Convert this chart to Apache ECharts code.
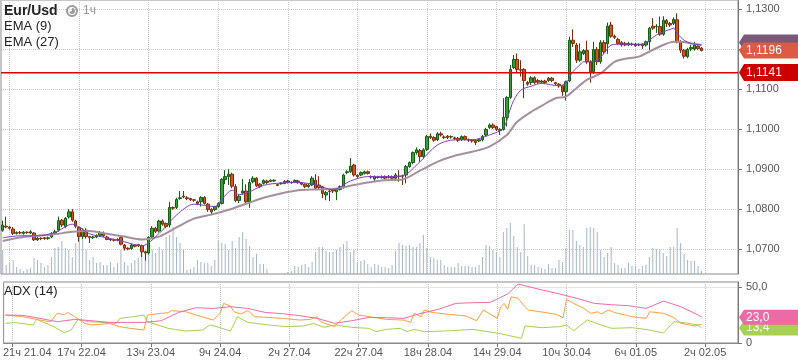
<!DOCTYPE html>
<html><head><meta charset="utf-8">
<script src="https://cdn.jsdelivr.net/npm/echarts@6/dist/echarts.min.js"></script>
<style>html,body{margin:0;padding:0;background:#fff}#c{width:798px;height:363px}</style>
</head><body><div id="c"></div>
<script>
const tickLabels = ['21ч 21.04','17ч 22.04','13ч 23.04','9ч 24.04','2ч 27.04','22ч 27.04','18ч 28.04','14ч 29.04','10ч 30.04','6ч 01.05','2ч 02.05'];
const slotCount = 212, firstTick = 2, tickStep = 20;
// [open, high, low, close]
const ohlc = [
[1.0747,1.0771,1.0743,1.0760],[1.0757,1.0781,1.0752,1.0755],[1.0755,1.0758,1.0748,1.0752],[1.0750,1.0755,1.0735,1.0739],[1.0739,1.0744,1.0736,1.0741],
[1.0741,1.0745,1.0737,1.0740],[1.0739,1.0745,1.0736,1.0742],[1.0742,1.0744,1.0738,1.0741],[1.0740,1.0747,1.0737,1.0743],[1.0740,1.0742,1.0720,1.0723],
[1.0723,1.0730,1.0720,1.0727],[1.0727,1.0729,1.0722,1.0726],[1.0728,1.0730,1.0723,1.0726],[1.0726,1.0731,1.0723,1.0728],[1.0730,1.0742,1.0727,1.0739],
[1.0739,1.0748,1.0736,1.0743],[1.0747,1.0781,1.0743,1.0771],[1.0772,1.0775,1.0755,1.0760],[1.0756,1.0780,1.0752,1.0777],[1.0780,1.0800,1.0776,1.0793],
[1.0793,1.0800,1.0768,1.0772],[1.0770,1.0773,1.0752,1.0757],[1.0754,1.0757,1.0718,1.0731],[1.0731,1.0752,1.0725,1.0747],[1.0747,1.0752,1.0726,1.0731],
[1.0731,1.0733,1.0715,1.0729],[1.0729,1.0733,1.0725,1.0730],[1.0730,1.0737,1.0727,1.0733],[1.0734,1.0745,1.0731,1.0741],[1.0740,1.0744,1.0730,1.0733],
[1.0730,1.0733,1.0722,1.0724],[1.0725,1.0727,1.0720,1.0723],[1.0723,1.0726,1.0719,1.0722],[1.0724,1.0727,1.0719,1.0722],[1.0729,1.0731,1.0709,1.0712],
[1.0710,1.0712,1.0696,1.0702],[1.0702,1.0704,1.0697,1.0700],[1.0701,1.0713,1.0698,1.0710],[1.0710,1.0712,1.0704,1.0707],[1.0711,1.0713,1.0705,1.0708],
[1.0708,1.0711,1.0680,1.0693],[1.0693,1.0695,1.0671,1.0690],[1.0690,1.0732,1.0686,1.0729],[1.0730,1.0757,1.0727,1.0752],[1.0752,1.0755,1.0740,1.0744],
[1.0745,1.0773,1.0741,1.0770],[1.0770,1.0774,1.0758,1.0762],[1.0764,1.0766,1.0752,1.0756],[1.0760,1.0818,1.0754,1.0804],[1.0804,1.0806,1.0798,1.0802],
[1.0804,1.0828,1.0800,1.0824],[1.0826,1.0845,1.0823,1.0828],[1.0832,1.0845,1.0827,1.0830],[1.0828,1.0832,1.0822,1.0826],[1.0826,1.0828,1.0820,1.0823],
[1.0823,1.0825,1.0818,1.0822],[1.0818,1.0821,1.0811,1.0814],[1.0818,1.0832,1.0806,1.0829],[1.0829,1.0832,1.0811,1.0814],[1.0812,1.0815,1.0793,1.0799],
[1.0799,1.0802,1.0785,1.0793],[1.0799,1.0808,1.0795,1.0806],[1.0806,1.0817,1.0803,1.0814],[1.0814,1.0877,1.0811,1.0874],[1.0874,1.0897,1.0862,1.0881],
[1.0881,1.0899,1.0860,1.0887],[1.0887,1.0891,1.0852,1.0857],[1.0856,1.0862,1.0817,1.0821],[1.0821,1.0836,1.0815,1.0832],[1.0840,1.0875,1.0836,1.0845],
[1.0845,1.0862,1.0815,1.0818],[1.0818,1.0875,1.0803,1.0866],[1.0868,1.0882,1.0864,1.0877],[1.0877,1.0880,1.0855,1.0858],[1.0862,1.0865,1.0852,1.0856],
[1.0864,1.0874,1.0861,1.0871],[1.0870,1.0873,1.0863,1.0866],[1.0869,1.0874,1.0867,1.0872],[1.0870,1.0874,1.0868,1.0872],[1.0861,1.0863,1.0857,1.0859],
[1.0863,1.0867,1.0861,1.0864],[1.0869,1.0872,1.0862,1.0864],[1.0867,1.0873,1.0864,1.0870],[1.0867,1.0869,1.0863,1.0866],[1.0868,1.0874,1.0866,1.0871],
[1.0870,1.0873,1.0863,1.0866],[1.0866,1.0868,1.0859,1.0862],[1.0862,1.0864,1.0852,1.0856],[1.0856,1.0863,1.0853,1.0860],[1.0860,1.0882,1.0857,1.0877],
[1.0872,1.0887,1.0848,1.0852],[1.0860,1.0882,1.0850,1.0854],[1.0855,1.0858,1.0827,1.0839],[1.0835,1.0845,1.0822,1.0841],[1.0845,1.0848,1.0820,1.0844],
[1.0847,1.0849,1.0840,1.0845],[1.0843,1.0852,1.0822,1.0849],[1.0849,1.0859,1.0846,1.0856],[1.0854,1.0888,1.0851,1.0885],[1.0891,1.0897,1.0887,1.0893],
[1.0893,1.0927,1.0890,1.0907],[1.0910,1.0913,1.0881,1.0885],[1.0884,1.0887,1.0878,1.0881],[1.0885,1.0894,1.0882,1.0891],[1.0889,1.0896,1.0886,1.0893],
[1.0893,1.0896,1.0886,1.0889],[1.0881,1.0884,1.0876,1.0880],[1.0875,1.0884,1.0868,1.0881],[1.0880,1.0883,1.0876,1.0879],[1.0879,1.0884,1.0876,1.0880],
[1.0881,1.0884,1.0874,1.0877],[1.0879,1.0885,1.0876,1.0881],[1.0881,1.0884,1.0874,1.0877],[1.0877,1.0890,1.0873,1.0885],[1.0882,1.0897,1.0868,1.0881],
[1.0883,1.0886,1.0860,1.0882],[1.0885,1.0910,1.0864,1.0906],[1.0906,1.0919,1.0903,1.0916],[1.0916,1.0944,1.0912,1.0941],[1.0941,1.0954,1.0936,1.0948],
[1.0946,1.0950,1.0918,1.0931],[1.0931,1.0952,1.0926,1.0948],[1.0949,1.0985,1.0945,1.0981],[1.0982,1.0989,1.0975,1.0979],[1.0979,1.0982,1.0968,1.0972],
[1.0973,1.0992,1.0970,1.0988],[1.0988,1.0993,1.0981,1.0985],[1.0980,1.0984,1.0975,1.0979],[1.0982,1.0985,1.0975,1.0979],[1.0980,1.0984,1.0976,1.0981],
[1.0978,1.0981,1.0972,1.0976],[1.0977,1.0980,1.0968,1.0972],[1.0973,1.0984,1.0970,1.0981],[1.0981,1.0984,1.0971,1.0974],[1.0974,1.0976,1.0968,1.0972],
[1.0972,1.0975,1.0966,1.0970],[1.0971,1.0974,1.0960,1.0966],[1.0970,1.0976,1.0967,1.0973],[1.0973,1.0985,1.0969,1.0981],[1.0985,1.1003,1.0982,1.0999],
[1.1004,1.1014,1.1000,1.1010],[1.1010,1.1014,1.1000,1.1004],[1.1006,1.1008,1.0995,1.0999],[1.0996,1.1002,1.0985,1.0999],[1.0999,1.1077,1.0996,1.1029],
[1.1029,1.1082,1.1006,1.1079],[1.1079,1.1160,1.1075,1.1149],[1.1154,1.1185,1.1150,1.1174],[1.1174,1.1189,1.1140,1.1149],[1.1149,1.1172,1.1131,1.1147],
[1.1149,1.1152,1.1077,1.1121],[1.1116,1.1120,1.1108,1.1112],[1.1116,1.1132,1.1110,1.1128],[1.1128,1.1132,1.1112,1.1116],[1.1121,1.1125,1.1113,1.1117],
[1.1117,1.1123,1.1114,1.1120],[1.1120,1.1123,1.1112,1.1116],[1.1121,1.1130,1.1118,1.1127],[1.1127,1.1130,1.1117,1.1121],[1.1116,1.1118,1.1110,1.1113],
[1.1112,1.1115,1.1103,1.1108],[1.1108,1.1110,1.1083,1.1093],[1.1093,1.1121,1.1071,1.1118],[1.1120,1.1231,1.1117,1.1222],[1.1222,1.1249,1.1205,1.1214],
[1.1210,1.1215,1.1165,1.1172],[1.1172,1.1214,1.1168,1.1193],[1.1189,1.1200,1.1185,1.1196],[1.1196,1.1221,1.1163,1.1168],[1.1168,1.1172,1.1116,1.1143],
[1.1143,1.1218,1.1138,1.1199],[1.1199,1.1205,1.1160,1.1168],[1.1168,1.1222,1.1163,1.1216],[1.1216,1.1222,1.1188,1.1193],[1.1213,1.1266,1.1188,1.1257],
[1.1260,1.1268,1.1228,1.1232],[1.1232,1.1236,1.1225,1.1229],[1.1224,1.1228,1.1210,1.1214],[1.1216,1.1220,1.1206,1.1210],[1.1214,1.1218,1.1207,1.1210],
[1.1210,1.1218,1.1207,1.1214],[1.1212,1.1216,1.1208,1.1211],[1.1212,1.1215,1.1205,1.1208],[1.1210,1.1214,1.1207,1.1211],[1.1212,1.1214,1.1200,1.1208],
[1.1210,1.1221,1.1206,1.1218],[1.1218,1.1255,1.1197,1.1252],[1.1257,1.1277,1.1248,1.1252],[1.1256,1.1262,1.1240,1.1257],[1.1256,1.1281,1.1233,1.1237],
[1.1237,1.1282,1.1233,1.1272],[1.1271,1.1275,1.1255,1.1264],[1.1264,1.1268,1.1255,1.1260],[1.1264,1.1279,1.1260,1.1274],[1.1273,1.1289,1.1214,1.1218],
[1.1218,1.1222,1.1190,1.1197],[1.1197,1.1200,1.1176,1.1182],[1.1181,1.1203,1.1177,1.1199],[1.1200,1.1210,1.1195,1.1204],[1.1200,1.1218,1.1196,1.1210],
[1.1207,1.1212,1.1198,1.1201],[1.1202,1.1205,1.1194,1.1196]
];
const volume = [
24,9,11,14,7,5,3,5,6,16,14,11,7,9,17,26,27,33,26,24,17,31,39,37,24,14,17,11,12,9,9,12,7,11,24,12,9,11,14,16,27,24,34,24,21,27,24,37,39,47,37,31,24,
4,5,7,14,12,11,11,8,14,34,31,30,24,33,26,37,42,35,28,17,20,10,10,5,0,0,0,0,1,2,3,8,7,9,10,7,12,22,27,27,23,22,22,24,27,30,33,22,24,12,13,14,10,
7,10,9,7,7,6,9,23,31,29,28,29,27,27,31,39,26,17,16,14,14,9,7,7,7,11,8,8,8,7,7,9,17,29,28,24,22,17,42,46,51,38,27,22,50,18,9,9,7,6,5,10,6,
6,14,12,26,44,44,33,29,27,46,47,46,42,24,17,21,27,11,9,6,6,11,8,8,5,8,9,17,26,25,25,21,18,27,27,46,31,20,14,13,13,8,3
];
const ema9 = [[0,1.0728],[5,1.0733],[10,1.0733],[15,1.0741],[20,1.0762],[25,1.0738],[30,1.0728],[35,1.0718],[40,1.0708],[45,1.0739],[50,1.0785],[55,1.0812],[61,1.0806],[63,1.0824],[66,1.0847],[68,1.0836],[70,1.0839],[75,1.0859],[80,1.0865],[85,1.0866],[90,1.0861],[95,1.0848],[100,1.0870],[105,1.0881],[110,1.0881],[115,1.0883],[120,1.0918],[125,1.0960],[130,1.0973],[135,1.0973],[140,1.0985],[144,1.1002],[146,1.1050],[147,1.1072],[149,1.1097],[152,1.1107],[155,1.1114],[160,1.1108],[162,1.1115],[164,1.1143],[166,1.1160],[167,1.1168],[169,1.1168],[171,1.1172],[173,1.1189],[175,1.1210],[178,1.1212],[182,1.1212],[184,1.1212],[186,1.1222],[188,1.1235],[190,1.1243],[192,1.1249],[193,1.1252],[194,1.1239],[196,1.1222],[198,1.1214],[201,1.1210]];
const ema27 = [[0,1.0720],[5,1.0729],[10,1.0733],[15,1.0737],[20,1.0743],[25,1.0745],[30,1.0738],[35,1.0731],[40,1.0724],[45,1.0731],[50,1.0754],[55,1.0776],[60,1.0786],[65,1.0798],[70,1.0813],[75,1.0828],[80,1.0839],[85,1.0847],[90,1.0849],[95,1.0850],[100,1.0858],[105,1.0866],[110,1.0872],[115,1.0874],[120,1.0896],[125,1.0918],[130,1.0933],[135,1.0943],[140,1.0956],[145,1.0985],[148,1.1018],[152,1.1043],[155,1.1058],[159,1.1077],[162,1.1081],[165,1.1102],[168,1.1123],[172,1.1139],[176,1.1168],[180,1.1177],[183,1.1181],[187,1.1198],[190,1.1210],[193,1.1218],[195,1.1218],[198,1.1214],[201,1.1210]];
const adx = [[0,25.0],[5,24.7],[10,22.0],[15,19.0],[20,21.1],[25,19.9],[30,18.4],[40,18.4],[45,19.9],[50,27.3],[55,31.5],[60,30.9],[65,32.4],[70,30.9],[75,27.3],[80,26.2],[85,24.4],[90,22.0],[95,17.6],[100,19.9],[105,22.9],[110,22.6],[115,22.0],[120,26.5],[125,30.1],[130,35.4],[135,36.0],[140,36.3],[145,43.8],[148,52.7],[155,47.3],[160,43.8],[165,39.9],[170,35.4],[175,34.2],[180,33.3],[185,30.9],[190,37.5],[195,32.4],[200,25.0],[201,23.0]];
const plusDI = [[0,25.0],[5,23.5],[10,20.5],[13,19.0],[15,26.5],[17,25.3],[18,27.4],[20,23.5],[23,17.4],[25,16.1],[30,17.4],[33,14.6],[36,13.1],[40,11.6],[41,25.0],[45,26.5],[47,27.1],[48,28.9],[52,28.0],[55,25.0],[60,20.5],[62,26.5],[63,35.4],[65,33.0],[66,27.9],[68,25.9],[70,28.9],[72,23.5],[75,23.0],[80,22.0],[85,20.5],[88,21.1],[90,23.5],[91,19.0],[95,14.6],[97,21.1],[100,28.9],[102,25.0],[105,23.5],[110,21.1],[115,20.5],[117,18.4],[118,26.5],[120,23.5],[121,29.5],[123,27.4],[128,25.6],[133,24.1],[136,19.9],[138,29.5],[142,22.0],[143,32.4],[144,35.4],[145,30.1],[146,41.3],[148,39.9],[150,32.4],[151,29.5],[156,27.1],[159,25.6],[161,22.6],[162,39.0],[164,35.4],[167,30.9],[169,26.5],[171,27.9],[172,25.9],[174,29.5],[176,27.1],[181,23.5],[185,22.0],[186,27.9],[190,26.5],[193,22.6],[195,17.6],[199,15.2],[201,16.7]];
const minusDI = [[0,17.6],[3,18.2],[8,16.1],[9,21.1],[14,14.6],[17,9.2],[19,11.6],[21,21.1],[24,19.0],[28,18.4],[32,17.4],[33,22.0],[37,23.5],[40,25.0],[41,19.0],[44,16.1],[47,13.1],[52,10.7],[57,11.6],[59,16.1],[61,14.6],[65,10.7],[67,23.5],[70,18.4],[76,16.1],[81,14.6],[86,15.2],[89,17.4],[92,14.0],[95,16.1],[100,14.0],[105,13.1],[107,10.1],[110,12.2],[114,13.1],[116,10.1],[118,12.2],[121,10.1],[128,10.9],[135,12.2],[143,8.3],[149,4.2],[150,15.2],[155,13.7],[160,14.6],[162,16.1],[164,10.9],[168,20.5],[172,16.1],[175,13.1],[181,13.7],[186,11.6],[190,8.9],[193,19.0],[196,18.2],[200,16.1],[201,13.4]];
const levelPrice = 1.1141;

const FONT = '"Liberation Sans", Arial, sans-serif';
const categories = Array.from({length: slotCount}, (_, i) => String(i));
const isTick = i => i >= firstTick && (i - firstTick) % tickStep === 0;
const commaFix = (v, d) => v.toFixed(d).replace('.', ',');
const candleData = ohlc.map(r => [r[0], r[3], r[2], r[1]]);

const chart = echarts.init(document.getElementById('c'), null, {renderer: 'canvas'});
const dotted = {type: 'dotted', color: '#c8c8c8', width: 1};
chart.setOption({
  animation: false,
  backgroundColor: '#fff',
  textStyle: {fontFamily: FONT},
  grid: [
    {left: 1, top: 0, right: 60, height: 274, show: true, borderColor: '#8a8a8a', borderWidth: 1, backgroundColor: 'transparent'},
    {left: 1, top: 282, right: 60, height: 61, show: true, borderColor: '#8a8a8a', borderWidth: 1, backgroundColor: 'transparent'}
  ],
  xAxis: [
    {type: 'category', gridIndex: 0, data: categories, boundaryGap: true,
     axisLine: {show: false, onZero: false}, axisTick: {show: false}, axisLabel: {show: false},
     splitLine: {show: true, interval: i => isTick(i), alignWithLabel: true, lineStyle: dotted}},
    {type: 'category', gridIndex: 1, data: categories, boundaryGap: true,
     axisLine: {show: true, onZero: false, lineStyle: {color: '#8a8a8a'}},
     axisTick: {show: true, alignWithLabel: true, interval: i => isTick(i), length: 4, lineStyle: {color: '#777'}},
     axisLabel: {show: true, interval: i => isTick(i), color: '#555', fontSize: 11, fontFamily: FONT, margin: 4,
       formatter: (v, i) => { const k = (i - firstTick) / tickStep; return k === 0 ? '{f|' + tickLabels[k] + '}' : tickLabels[k]; },
       rich: {f: {padding: [0, 0, 0, 30], color: '#555', fontSize: 11, fontFamily: FONT}}},
     splitLine: {show: true, interval: i => isTick(i), alignWithLabel: true, lineStyle: dotted}}
  ],
  yAxis: [
    {type: 'value', gridIndex: 0, position: 'right', min: 1.06375, max: 1.13225, splitNumber: 7,
     axisLine: {show: true, lineStyle: {color: '#777'}},
     axisTick: {show: true, length: 4, lineStyle: {color: '#777'}},
     axisLabel: {color: '#555', fontSize: 11, fontFamily: FONT, margin: 8, showMinLabel: false, showMaxLabel: false,
       formatter: v => commaFix(v, 4)},
     splitLine: {show: true, lineStyle: dotted}},
    {type: 'value', gridIndex: 0, min: 0, max: 274, show: false, splitLine: {show: false}, axisLine: {show: false}},
    {type: 'value', gridIndex: 1, position: 'right', min: 0, max: 54.5, interval: 50,
     axisLine: {show: true, lineStyle: {color: '#777'}},
     axisTick: {show: true, length: 4, lineStyle: {color: '#777'}},
     axisLabel: {color: '#555', fontSize: 11, fontFamily: FONT, margin: 8, showMaxLabel: false,
       formatter: v => v === 0 ? '0' : commaFix(v, 1)},
     splitLine: {show: true, lineStyle: dotted}}
  ],
  series: [
    {type: 'bar', xAxisIndex: 0, yAxisIndex: 1, data: volume, barWidth: 1, silent: true, z: 1,
     itemStyle: {color: '#a5b5c5'}},
    {type: 'candlestick', xAxisIndex: 0, yAxisIndex: 0, data: candleData, barWidth: 3, z: 3,
     itemStyle: {color: '#35a035', color0: '#d5541f', borderColor: '#155c15', borderColor0: '#7c2a0c', borderWidth: 1}},
    {type: 'line', xAxisIndex: 0, yAxisIndex: 0, data: ema27, showSymbol: false, symbol: 'none', smooth: 0.3, z: 4,
     lineStyle: {color: '#a4909d', width: 2}},
    {type: 'line', xAxisIndex: 0, yAxisIndex: 0, data: ema9, showSymbol: false, symbol: 'none', smooth: 0.3, z: 5,
     lineStyle: {color: '#7b3fc2', width: 1}},
    {type: 'line', xAxisIndex: 1, yAxisIndex: 2, data: minusDI, showSymbol: false, symbol: 'none', z: 3,
     lineStyle: {color: '#a6d152', width: 1}},
    {type: 'line', xAxisIndex: 1, yAxisIndex: 2, data: plusDI, showSymbol: false, symbol: 'none', z: 4,
     lineStyle: {color: '#ffa040', width: 1}},
    {type: 'line', xAxisIndex: 1, yAxisIndex: 2, data: adx, showSymbol: false, symbol: 'none', z: 5,
     lineStyle: {color: '#ee6ba8', width: 1}}
  ]
});

function tag(y, h, color, text, z) {
  const x0 = 739, x1 = 798, hh = h / 2;
  const out = [{type: 'polygon', z: z, shape: {points: [[x0, y], [x0 + 5, y - hh], [x1, y - hh], [x1, y + hh], [x0 + 5, y + hh]]}, style: {fill: color}}];
  if (text) out.push({type: 'text', z: z + 1, x: 746, y: y, style: {text: text, fill: '#fff', font: '12px ' + FONT, verticalAlign: 'middle', textAlign: 'left'}});
  return out;
}
const lastClose = ohlc[ohlc.length - 1][3];
const yClose = chart.convertToPixel({yAxisIndex: 0}, lastClose);
const yLevel = chart.convertToPixel({yAxisIndex: 0}, levelPrice);
const lastAdx = adx[adx.length - 1][1], lastMinus = minusDI[minusDI.length - 1][1];
const yAdx = chart.convertToPixel({yAxisIndex: 2}, lastAdx);
const yMinus = chart.convertToPixel({yAxisIndex: 2}, lastMinus);

const g = [].concat(
  [{type: 'rect', z: 10, shape: {x: 1, y: Math.floor(yLevel), width: 737, height: 1.4}, style: {fill: '#e00000'}}],
  tag(yClose - 8, 16, '#7a5878', '', 20),
  tag(yClose, 16, '#dd5a45', commaFix(lastClose, 4), 22),
  tag(yLevel, 17, '#cc0000', commaFix(levelPrice, 4), 24),
  tag(yMinus, 15, '#a6d152', commaFix(lastMinus, 1), 20),
  tag(yAdx, 15, '#ec6aa6', commaFix(lastAdx, 1), 22),
  [
    {type: 'text', x: 4, y: 4, style: {text: 'Eur/Usd', font: 'bold 14px ' + FONT, fill: '#222'}},
    {type: 'circle', shape: {cx: 72, cy: 11, r: 5}, style: {fill: 'none', stroke: '#999', lineWidth: 2}},
    {type: 'sector', shape: {cx: 72, cy: 11, r: 3, startAngle: -Math.PI / 2, endAngle: Math.PI * 0.9}, style: {fill: '#999'}},
    {type: 'text', x: 83, y: 5, style: {text: '1ч', font: '12px ' + FONT, fill: '#999'}},
    {type: 'text', x: 4, y: 20, style: {text: 'EMA (9)', font: '13px ' + FONT, fill: '#222'}},
    {type: 'text', x: 4, y: 36, style: {text: 'EMA (27)', font: '13px ' + FONT, fill: '#222'}},
    {type: 'text', x: 4, y: 285, style: {text: 'ADX (14)', font: '13px ' + FONT, fill: '#222'}}
  ]
);
chart.setOption({graphic: g});
</script></body></html>
